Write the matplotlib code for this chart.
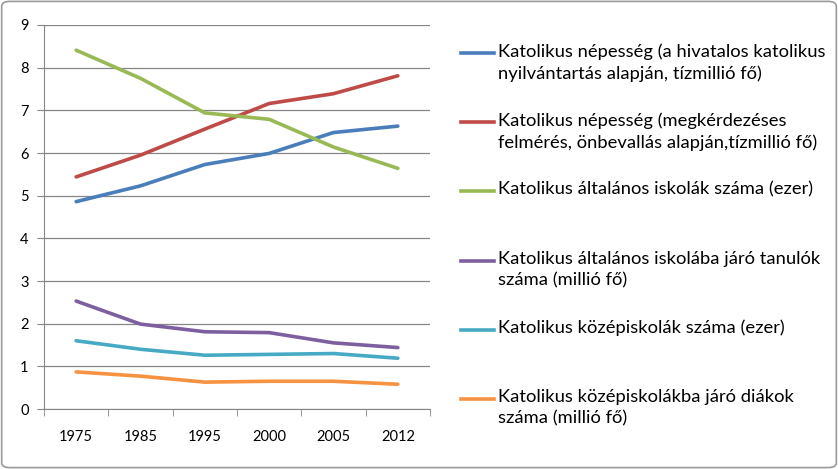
import matplotlib
matplotlib.use("Agg")
import matplotlib.pyplot as plt
from matplotlib.lines import Line2D
from matplotlib.patches import FancyBboxPatch

plt.rcParams["font.family"] = ["Lato", "DejaVu Sans"]

years = ["1975", "1985", "1995", "2000", "2005", "2012"]

nepesseg_hivatalos = [4.86, 5.23, 5.73, 5.99, 6.48, 6.63]
nepesseg_felmeres = [5.44, 5.95, 6.56, 7.16, 7.39, 7.81]
altalanos_iskolak = [8.41, 7.75, 6.94, 6.79, 6.14, 5.64]
altalanos_tanulok = [2.53, 1.99, 1.81, 1.79, 1.55, 1.44]
kozepiskolak = [1.60, 1.40, 1.26, 1.28, 1.30, 1.19]
kozepiskolas_diakok = [0.87, 0.77, 0.63, 0.65, 0.65, 0.58]

labels = [
    "Katolikus népesség (a hivatalos katolikus\nnyilvántartás alapján, tízmillió fő)",
    "Katolikus népesség (megkérdezéses\nfelmérés, önbevallás alapján,tízmillió fő)",
    "Katolikus általános iskolák száma (ezer)",
    "Katolikus általános iskolába járó tanulók\nszáma (millió fő)",
    "Katolikus középiskolák száma (ezer)",
    "Katolikus középiskolákba járó diákok\nszáma (millió fő)",
]
series = [nepesseg_hivatalos, nepesseg_felmeres, altalanos_iskolak,
          altalanos_tanulok, kozepiskolak, kozepiskolas_diakok]
colors = ["#4A7EBB", "#BE4B48", "#98B954", "#7D5FA0", "#46AAC5", "#F69240"]

W, H = 838, 469
fig = plt.figure(figsize=(W / 100, H / 100), dpi=100)
ax = fig.add_axes([44 / W, 1 - 409 / H, (430 - 44) / W, (409 - 25) / H])

x = list(range(len(years)))
for vals, c in zip(series, colors):
    ax.plot(x, vals, color=c, lw=2.6, solid_capstyle="round")

ax.set_xlim(-0.5, len(years) - 0.5)
ax.set_ylim(0, 9)
ax.set_yticks(range(0, 10))
ax.set_xticks(x)
ax.set_xticklabels(years)
ax.set_xticks([i - 0.5 for i in range(len(years) + 1)], minor=True)
ax.tick_params(axis="x", which="major", length=0, pad=15, labelsize=10.5)
ax.tick_params(axis="x", which="minor", length=5, color="#868686", direction="out")
ax.tick_params(axis="y", length=5, color="#868686", labelsize=10.5, pad=6)
ax.grid(axis="y", color="#868686", lw=0.9)
ax.set_axisbelow(True)
for s in ["top", "right"]:
    ax.spines[s].set_visible(False)
for s in ["left", "bottom"]:
    ax.spines[s].set_color("#868686")

# legend drawn the way Excel lays it out: line next to the first text row
y0, step = 53, 69.2
for i, (lab, c) in enumerate(zip(labels, colors)):
    yy = 1 - (y0 + i * step) / H
    fig.add_artist(Line2D([461 / W, 494 / W], [yy, yy], color=c, lw=2.6))
    fig.text(498 / W, yy + 10 / H, lab, fontsize=13.2, ha="left", va="top",
             linespacing=1.4, transform=fig.transFigure)

fig.add_artist(FancyBboxPatch((0.002, 0.003), 0.996, 0.994,
                              boxstyle="round,pad=0,rounding_size=0.01",
                              transform=fig.transFigure, fill=False,
                              edgecolor="#9a9a9a", lw=1.2))

fig.savefig("out.png", dpi=100)
